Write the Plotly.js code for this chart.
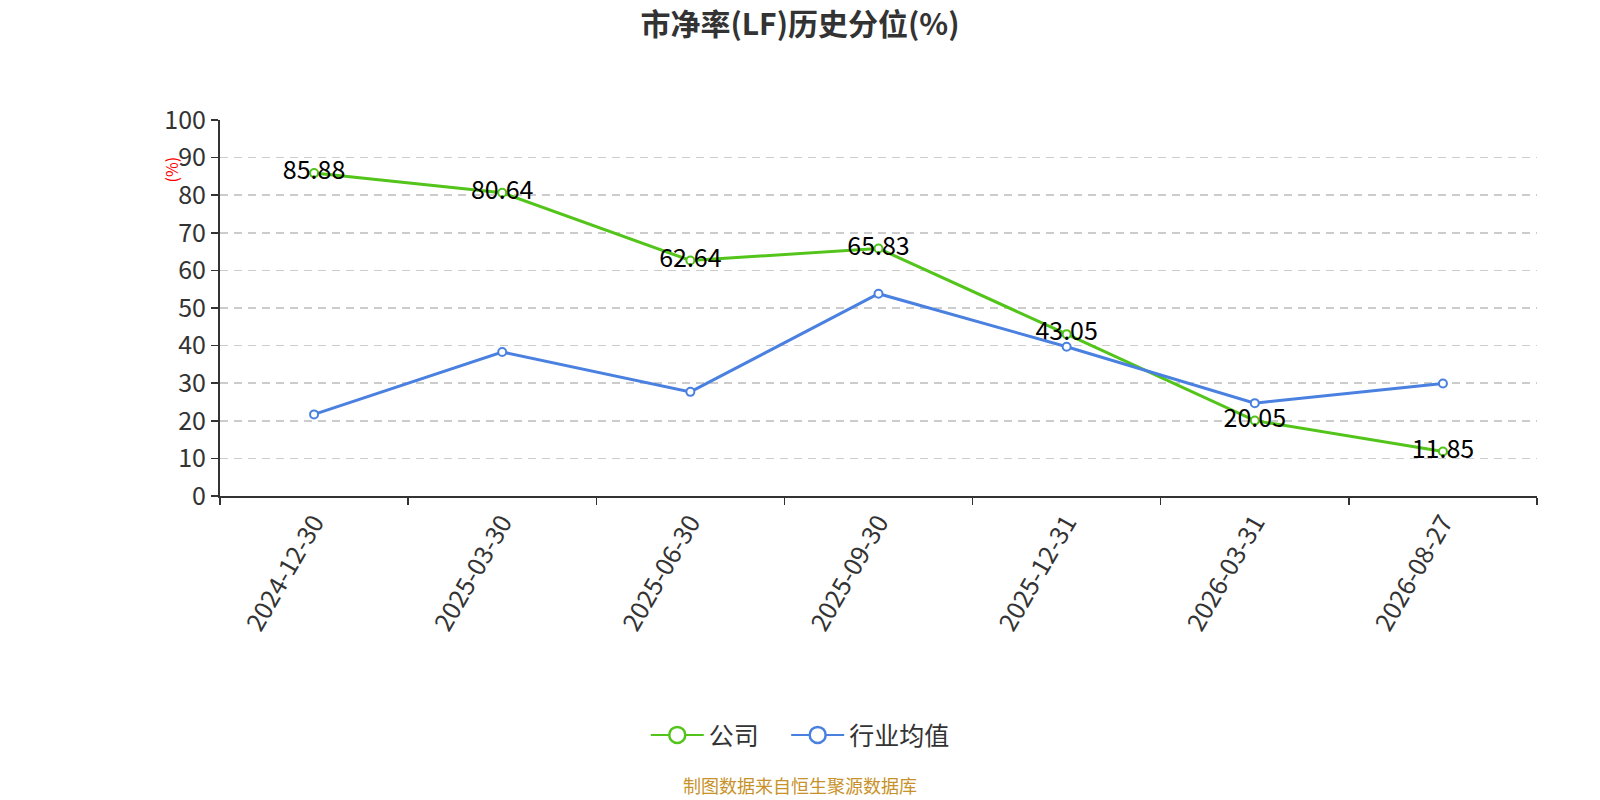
<!DOCTYPE html>
<html>
<head>
<meta charset="utf-8">
<script src="https://cdn.plot.ly/plotly-3.0.1.min.js"></script>
<style>
  html, body { margin: 0; padding: 0; background: #fff; overflow: hidden; }
  #chart { display: block; width: 1600px; height: 800px; }
</style>
</head>
<body>
<div id="chart"></div>
<script>
const dates = ['2024-12-30', '2025-03-30', '2025-06-30', '2025-09-30', '2025-12-31', '2026-03-31', '2026-08-27']
const company = [85.88, 80.64, 62.64, 65.83, 43.05, 20.05, 11.85]
const industry = [21.7, 38.3, 27.7, 53.8, 39.7, 24.7, 29.9]
const seriesNames = ['公司', '行业均值']

const green = '#52C41A'
const blue = '#4A80E0'
const font = '"Noto Sans CJK SC", "Noto Sans", sans-serif'

function lineTrace (name, values, color, withText) {
  const t = {
    name: name,
    type: 'scatter',
    mode: withText ? 'lines+markers+text' : 'lines+markers',
    x: dates,
    y: values,
    line: { color: color, width: 3 },
    marker: { symbol: 'circle', size: 8, color: '#fff', line: { color: color, width: 2 } },
    showlegend: false,
    cliponaxis: false
  }
  if (withText) {
    t.text = values.map(v => v.toFixed(2))
    t.textposition = 'middle center'
    t.textfont = { size: 25, color: '#000', family: font }
  }
  return t
}

// legend-only entries so the legend symbol can be drawn larger than the markers
function legendTrace (name, color) {
  return {
    name: name,
    type: 'scatter',
    mode: 'lines+markers',
    x: [null],
    y: [null],
    line: { color: color, width: 2 },
    marker: { symbol: 'circle', size: 20, color: '#fff', line: { color: color, width: 2.5 } }
  }
}

const traces = [
  lineTrace(seriesNames[0], company, green, true),
  lineTrace(seriesNames[1], industry, blue, false),
  legendTrace(seriesNames[0] + '&nbsp;&nbsp;&nbsp;&nbsp;', green),
  legendTrace(seriesNames[1], blue)
]

const layout = {
  width: 1600,
  height: 800,
  margin: { l: 220, r: 63, t: 120, b: 304 },
  paper_bgcolor: '#fff',
  plot_bgcolor: '#fff',
  font: { family: font, color: '#333' },
  title: {
    text: '<b>市净率(LF)历史分位(%)</b>',
    x: 0.5,
    xanchor: 'center',
    y: 0.97,
    yanchor: 'middle',
    font: { size: 30, color: '#333', family: font }
  },
  xaxis: {
    type: 'category',
    range: [-0.5, 6.5],
    tickson: 'boundaries',
    ticks: 'outside',
    ticklen: 7,
    tickcolor: '#333',
    tickwidth: 1.5,
    tickangle: -60,
    tickfont: { size: 25, color: '#333', family: font },
    showgrid: false,
    showline: true,
    linecolor: '#333',
    linewidth: 2,
    zeroline: false,
    fixedrange: true
  },
  yaxis: {
    range: [0, 100],
    dtick: 10,
    ticks: 'outside',
    ticklen: 7,
    tickcolor: '#333',
    tickwidth: 1.5,
    tickfont: { size: 25, color: '#333', family: font },
    showline: true,
    linecolor: '#333',
    linewidth: 2,
    showgrid: true,
    gridcolor: '#ccc',
    griddash: '8px,6px',
    gridwidth: 1.5,
    zeroline: false,
    fixedrange: true
  },
  showlegend: true,
  legend: {
    orientation: 'h',
    x: 0.4406,
    xanchor: 'center',
    y: -0.636,
    yanchor: 'middle',
    font: { size: 25, color: '#333', family: font },
    itemwidth: 53
  },
  annotations: [
    {
      text: '(%)',
      xref: 'paper',
      yref: 'paper',
      x: -0.048,
      y: 0.908,
      showarrow: false,
      textangle: -90,
      font: { size: 16, color: '#f00', family: font }
    },
    {
      text: '制图数据来自恒生聚源数据库',
      xref: 'paper',
      yref: 'paper',
      x: 0.4406,
      xanchor: 'center',
      y: -0.768,
      yanchor: 'middle',
      showarrow: false,
      font: { size: 18, color: '#C8922A', family: font }
    }
  ]
}

Plotly.newPlot('chart', traces, layout, { displayModeBar: false, staticPlot: true })
</script>
</body>
</html>
